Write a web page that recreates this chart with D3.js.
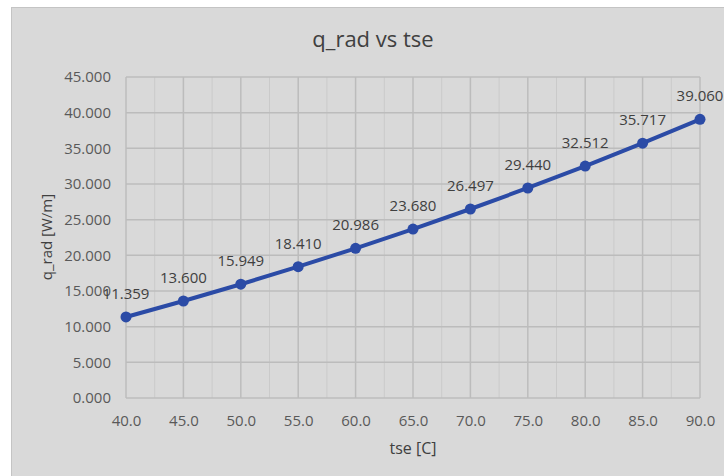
<!DOCTYPE html>
<html>
<head>
<meta charset="utf-8">
<script src="https://cdn.jsdelivr.net/npm/d3@7"></script>
<style>
  html, body { margin: 0; padding: 0; background: #ffffff; }
  svg { display: block; }
  text { font-family: "Open Sans", "Noto Sans", sans-serif; }
</style>
</head>
<body>
<svg id="chart" width="724" height="476"></svg>
<script>
// Radiative heat loss per unit length against surface temperature
const tse = [40, 45, 50, 55, 60, 65, 70, 75, 80, 85, 90];
const qRad = [11.359, 13.600, 15.949, 18.410, 20.986, 23.680, 26.497, 29.440, 32.512, 35.717, 39.060];
const xTicks = [40, 45, 50, 55, 60, 65, 70, 75, 80, 85, 90];
const yTicks = [0, 5, 10, 15, 20, 25, 30, 35, 40, 45];

const svg = d3.select("#chart");
const W = 724, H = 476;

// chart area panel
svg.append("rect")
  .attr("x", 11.5).attr("y", 7.5)
  .attr("width", W).attr("height", H)
  .attr("fill", "#d9d9d9")
  .attr("stroke", "#c4c4c4").attr("stroke-width", 1);

const plot = { left: 126, right: 700, top: 77, bottom: 398 };

const x = d3.scaleLinear().domain([40, 90]).range([plot.left, plot.right]);
const y = d3.scaleLinear().domain([0, 45]).range([plot.bottom, plot.top]);

// minor vertical gridlines
const minorX = d3.range(42.5, 90, 5);
svg.append("g")
  .selectAll("line").data(minorX).join("line")
  .attr("x1", d => x(d)).attr("x2", d => x(d))
  .attr("y1", plot.top).attr("y2", plot.bottom)
  .attr("stroke", "#cacaca").attr("stroke-width", 1);

// major gridlines
svg.append("g")
  .selectAll("line").data(xTicks).join("line")
  .attr("x1", d => x(d)).attr("x2", d => x(d))
  .attr("y1", plot.top).attr("y2", plot.bottom)
  .attr("stroke", "#bcbcbc").attr("stroke-width", 1.5);
svg.append("g")
  .selectAll("line").data(yTicks).join("line")
  .attr("x1", plot.left).attr("x2", plot.right)
  .attr("y1", d => y(d)).attr("y2", d => y(d))
  .attr("stroke", "#bcbcbc").attr("stroke-width", 1.5);

// axes (labels only, gridlines carry the structure)
const xAxis = svg.append("g")
  .attr("transform", `translate(0,${plot.bottom})`)
  .call(d3.axisBottom(x).tickValues(xTicks).tickFormat(d3.format(".1f")).tickSize(0).tickPadding(17));
const yAxis = svg.append("g")
  .attr("transform", `translate(${plot.left},0)`)
  .call(d3.axisLeft(y).tickValues(yTicks).tickFormat(d3.format(".3f")).tickSize(0).tickPadding(15));
[xAxis, yAxis].forEach(g => {
  g.select(".domain").remove();
  g.selectAll("text")
    .attr("fill", "#595959")
    .style("font-size", "15px")
    .style("font-family", "'Open Sans', 'Noto Sans', sans-serif");
});

// series line and markers
const line = d3.line().x((d, i) => x(tse[i])).y(d => y(d));
svg.append("path")
  .datum(qRad)
  .attr("d", line)
  .attr("fill", "none")
  .attr("stroke", "#2b4ba6")
  .attr("stroke-width", 4)
  .attr("stroke-linejoin", "round");
svg.append("g")
  .selectAll("circle").data(qRad).join("circle")
  .attr("cx", (d, i) => x(tse[i]))
  .attr("cy", d => y(d))
  .attr("r", 5.5)
  .attr("fill", "#2b4ba6");

// value labels above points
svg.append("g")
  .selectAll("text").data(qRad).join("text")
  .attr("x", (d, i) => x(tse[i]))
  .attr("y", d => y(d) - 18)
  .attr("text-anchor", "middle")
  .attr("fill", "#404040")
  .style("font-size", "15px")
  .text(d => d3.format(".3f")(d));

// title
svg.append("text")
  .attr("x", 373).attr("y", 47)
  .attr("text-anchor", "middle")
  .attr("fill", "#404040")
  .style("font-size", "22px")
  .text("q_rad vs tse");

// axis titles
svg.append("text")
  .attr("x", 413).attr("y", 454)
  .attr("text-anchor", "middle")
  .attr("fill", "#404040")
  .style("font-size", "16px")
  .text("tse [C]");
svg.append("text")
  .attr("transform", "translate(52,237) rotate(-90)")
  .attr("text-anchor", "middle")
  .attr("fill", "#404040")
  .style("font-size", "15px")
  .text("q_rad [W/m]");
</script>
</body>
</html>
